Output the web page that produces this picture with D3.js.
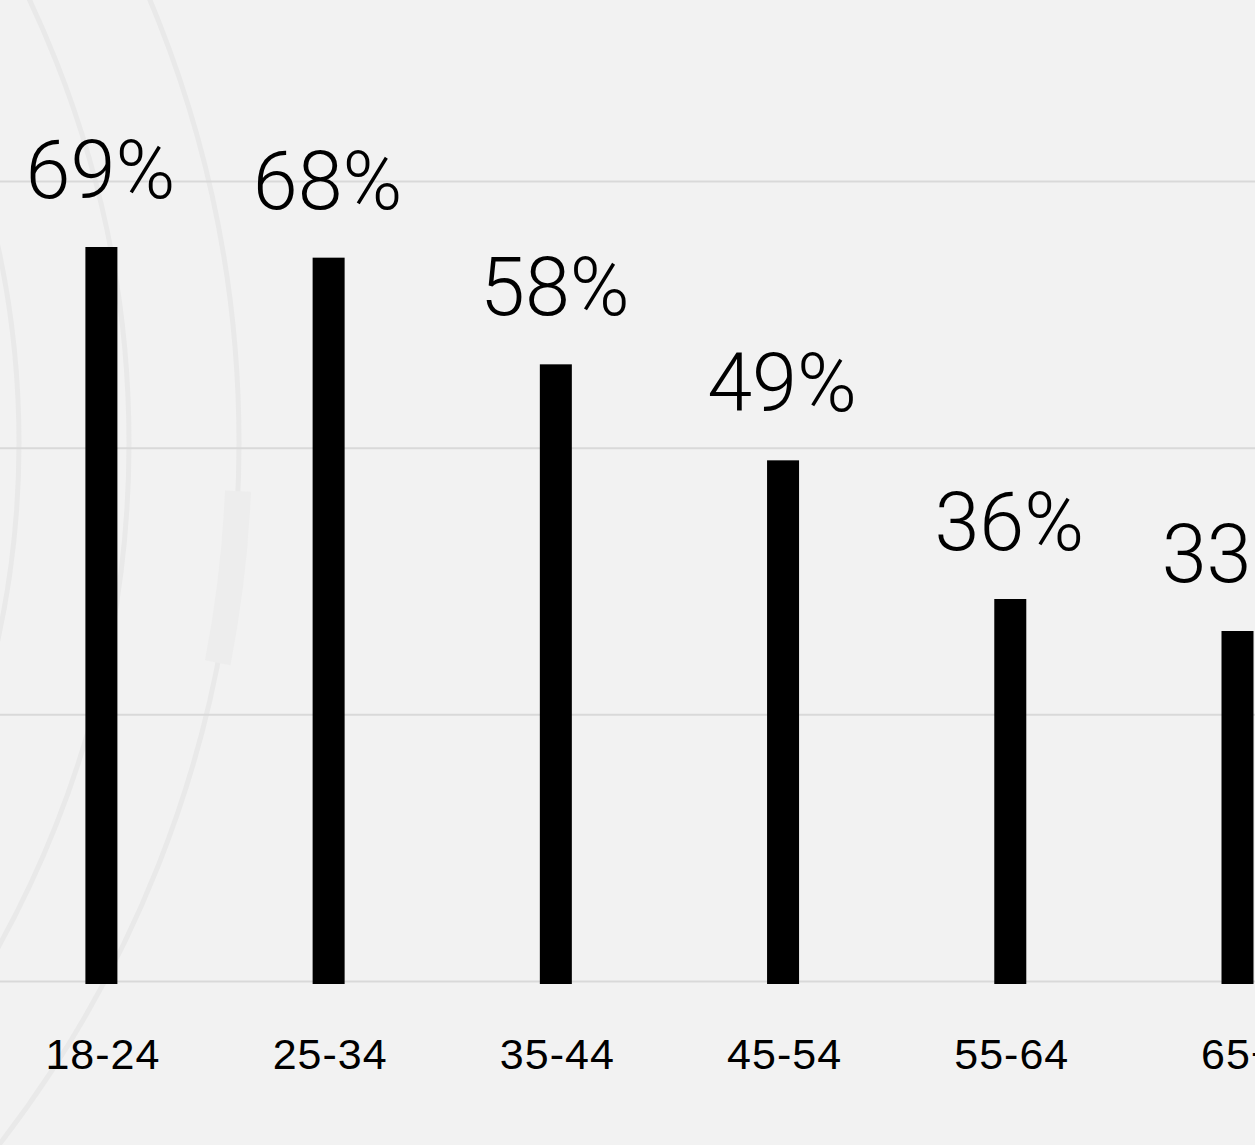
<!DOCTYPE html>
<html>
<head>
<meta charset="utf-8">
<script src="https://cdn.jsdelivr.net/npm/d3@7"></script>
<style>
  html, body { margin: 0; padding: 0; background: #f2f2f2; }
  svg { display: block; }
</style>
</head>
<body>
<svg id="chart" width="1255" height="1145"></svg>
<script>
// Age groups and share of respondents (%)
const categories = ["18-24", "25-34", "35-44", "45-54", "55-64", "65+"];
const values = [69, 68, 58, 49, 36, 33];
const gridTicks = [0, 25, 50, 75];

// Decorative concentric rings in the background
const ringRadii = [926, 1036, 1146];
const highlightSpan = [0.042, 0.193]; // radians below the horizontal, on the outer ring

const W = 1255, H = 1145;
const svg = d3.select("#chart");

svg.append("rect").attr("width", W).attr("height", H).attr("fill", "#f2f2f2");

const x = d3.scalePoint().domain(categories).range([101.4, 1237.5]);
const y = d3.scaleLinear().domain([0, 75]).range([983, 183]);

// Background rings
const rings = svg.append("g").attr("transform", "translate(-907,443)");
rings.selectAll("circle").data(ringRadii).join("circle")
  .attr("r", d => d)
  .attr("fill", "none")
  .attr("stroke", "#e9e9e9")
  .attr("stroke-width", 5);

rings.append("path")
  .attr("d", d3.arc()({
    innerRadius: ringRadii[2] - 13,
    outerRadius: ringRadii[2] + 13,
    startAngle: Math.PI / 2 + highlightSpan[0],
    endAngle: Math.PI / 2 + highlightSpan[1]
  }))
  .attr("fill", "#ededed");

// Horizontal gridlines
svg.append("g").selectAll("line").data(gridTicks).join("line")
  .attr("x1", 0).attr("x2", W)
  .attr("y1", d => y(d) - 1.5).attr("y2", d => y(d) - 1.5)
  .attr("stroke", "#d9d9d9")
  .attr("stroke-width", 2);

const data = categories.map((c, i) => ({ c, v: values[i] }));
const barW = 32;

// Bars
svg.append("g").selectAll("rect").data(data).join("rect")
  .attr("x", d => x(d.c) - barW / 2)
  .attr("y", d => y(d.v))
  .attr("width", barW)
  .attr("height", d => y(0) - y(d.v) + 1)
  .attr("fill", "#000");

// Value labels above bars
svg.append("g").selectAll("text").data(data).join("text")
  .attr("x", d => x(d.c) - 1)
  .attr("y", d => y(d.v) - 49)
  .attr("text-anchor", "middle")
  .attr("font-family", "Roboto, 'Helvetica Neue', sans-serif")
  .attr("font-weight", 300)
  .attr("font-size", 81)
  .attr("fill", "#000")
  .text(d => d.v + "%");

// Category labels
svg.append("g").selectAll("text").data(categories).join("text")
  .attr("x", d => x(d) + 1.5)
  .attr("y", 1069)
  .attr("text-anchor", "middle")
  .attr("font-family", "'Liberation Sans', Arial, sans-serif")
  .attr("font-size", 43)
  .attr("letter-spacing", 1)
  .attr("fill", "#000")
  .text(d => d);
</script>
</body>
</html>
